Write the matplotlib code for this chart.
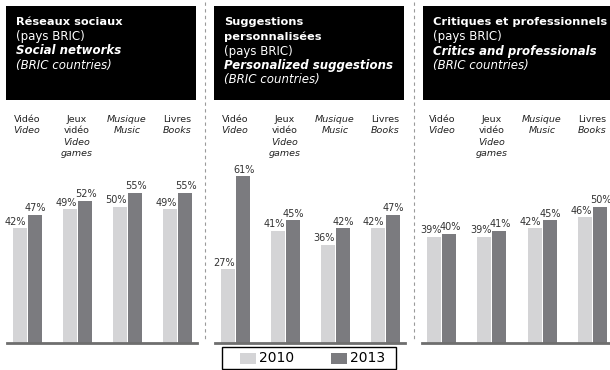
import matplotlib.pyplot as plt
from matplotlib.patches import Rectangle
from matplotlib.lines import Line2D
import numpy as np

W, H = 610, 370

# categories (French / English)
cats_fr = ['Vidéo', 'Jeux\nvidéo', 'Musique', 'Livres']
cats_en = ['Video', 'Video\ngames', 'Music', 'Books']

titles_fr = ['Réseaux sociaux', 'Suggestions\npersonnalisées', 'Critiques et professionnels']
titles_en = ['Social networks', 'Personalized suggestions', 'Critics and professionals']

years = ['2010', '2013']

social_2010 = [42, 49, 50, 49]
social_2013 = [47, 52, 55, 55]
sugg_2010 = [27, 41, 36, 42]
sugg_2013 = [61, 45, 42, 47]
crit_2010 = [39, 39, 42, 46]
crit_2013 = [40, 41, 45, 50]

series = [(social_2010, social_2013), (sugg_2010, sugg_2013), (crit_2010, crit_2013)]

c2010 = '#d4d4d6'
c2013 = '#7b7b7f'
txt = '#333333'


def fx(x):
    return x / W


def fy(y):
    return 1 - y / H


fig = plt.figure(figsize=(W / 100, H / 100), dpi=100, facecolor='white')

panel_left = [7, 215, 422]
box_left = [6, 214, 423]
base_y = 343
scale = 2.73  # px per percentage point
ymax = 66
ax_h = ymax * scale

for i in range(3):
    # black header
    fig.patches.append(Rectangle((fx(box_left[i]), fy(100)), fx(190), 94 / H,
                                 transform=fig.transFigure, facecolor='black',
                                 edgecolor='none', zorder=0))
    lines = titles_fr[i].split('\n')
    styles = [('bold', 'normal', 8.2)] * len(lines)
    lines += ['(pays BRIC)', titles_en[i], '(BRIC countries)']
    styles += [('normal', 'normal', 8.5), ('bold', 'italic', 8.5), ('normal', 'italic', 8.5)]
    for k, (line, (w, s, fs)) in enumerate(zip(lines, styles)):
        fig.text(fx(box_left[i] + 10), fy(22 + 14.5 * k), line, color='white',
                 fontsize=fs, fontweight=w, fontstyle=s, va='center', ha='left')

    ax = fig.add_axes([fx(panel_left[i]), fy(base_y), fx(190), ax_h / H])
    x = np.arange(len(cats_fr))
    v10, v13 = series[i]
    ax.bar(x - 0.15, v10, width=0.28, color=c2010, zorder=2)
    ax.bar(x + 0.15, v13, width=0.28, color=c2013, zorder=2)
    for j in range(len(x)):
        ax.text(x[j] - 0.01, v10[j] + 0.6, f'{v10[j]}%', ha='right', va='bottom',
                fontsize=7, color=txt)
        ax.text(x[j] - 0.04, v13[j] + 0.6, f'{v13[j]}%', ha='left', va='bottom',
                fontsize=7, color=txt)
    ax.set_xlim(-0.4, 3.4)
    ax.set_ylim(0, ymax)
    ax.set_xticks([])
    ax.set_yticks([])
    for sp in ['top', 'left', 'right']:
        ax.spines[sp].set_visible(False)
    ax.spines['bottom'].set_color('#6e6e6e')
    ax.spines['bottom'].set_linewidth(2)
    ax.patch.set_alpha(0)

    # category labels above the bars
    for j in range(len(cats_fr)):
        cx = panel_left[i] + 20 + 50 * j
        fr = cats_fr[j].split('\n')
        en = cats_en[j].split('\n')
        fr_style = 'italic' if cats_fr[j] == 'Musique' else 'normal'
        k = 0
        for line in fr:
            fig.text(fx(cx), fy(120 + 11 * k), line, ha='center', va='center',
                     fontsize=6.8, fontstyle=fr_style, color='#222222')
            k += 1
        for line in en:
            fig.text(fx(cx), fy(120 + 11 * k), line, ha='center', va='center',
                     fontsize=6.8, fontstyle='italic', color='#222222')
            k += 1

# dashed separators
for sx in [204.5, 413.5]:
    fig.lines.append(Line2D([fx(sx), fx(sx)], [fy(2), fy(342)], transform=fig.transFigure,
                            color='#9a9a9a', lw=0.8, linestyle=(0, (3, 3))))

# legend box
fig.patches.append(Rectangle((fx(222), fy(369)), fx(174), 22 / H, transform=fig.transFigure,
                             facecolor='white', edgecolor='black', lw=1))
for px, col, lab in [(240, c2010, years[0]), (331, c2013, years[1])]:
    fig.patches.append(Rectangle((fx(px), fy(364)), fx(16), 11 / H, transform=fig.transFigure,
                                 facecolor=col, edgecolor='none'))
    fig.text(fx(px + 19), fy(358.5), lab, ha='left', va='center', fontsize=10, color='black')

fig.savefig('out.png', dpi=100)
